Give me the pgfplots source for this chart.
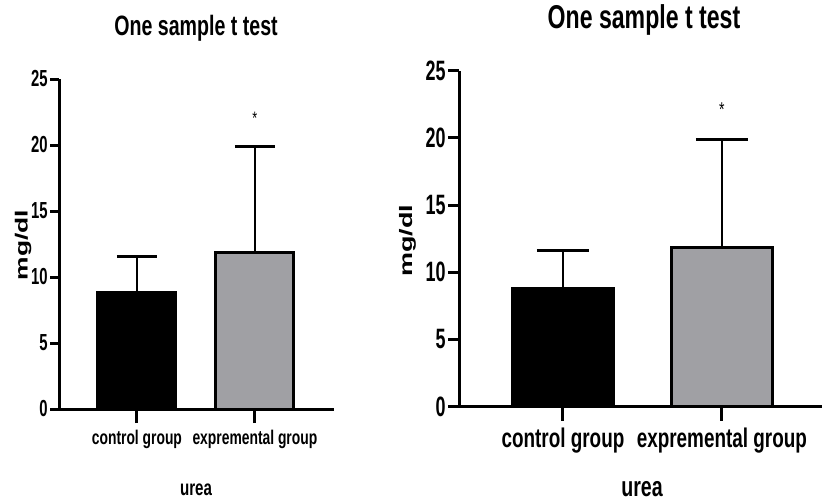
\documentclass[border=0pt]{standalone}
\usepackage{fontspec}
\setmainfont{Liberation Sans}[FakeStretch=0.7]
\newfontfamily\ylfont{Liberation Sans}[FakeStretch=1.5]
\newfontfamily\numfont{Liberation Sans}[FakeStretch=0.64]
\usepackage{pgfplots}
\pgfplotsset{compat=1.18}
\definecolor{barGray}{HTML}{A0A0A4}

\pgfplotsset{
  urea/.style={
    scale only axis,
    axis lines=left,
    axis line style={-, line width=1.5pt},
    ymin=0, ymax=25, ytick={0,5,...,25},
    xtick={0,1}, xticklabels={control group, expremental group},
    tick align=outside,
    tick style={line width=1.5pt, black},
    ybar, bar shift=0pt,
    /pgf/number format/assume math mode=true,
    clip=false,
  },
  errstyle/.style={
    error bars/.cd, y dir=plus, y explicit,
    error bar style={line width=0.75pt, black},
    error mark options={rotate=90, line width=1.5pt, mark size=#1, black}
  }
}

\begin{document}
\begin{tikzpicture}
\path[use as bounding box] (0,0) rectangle (411pt,-250.5pt);

% left panel
\begin{axis}[urea,
  at={(29.5pt,-204.5pt)}, anchor=south west,
  width=137.5pt, height=165pt,
  xmin=-0.66, xmax=1.67,
  major tick length=4.5pt,
  xtick style={/pgfplots/major tick length=7pt},
  yticklabel style={font=\numfont\bfseries\fontsize{11.6}{13}\selectfont, inner xsep=1pt},
  xticklabel style={font=\bfseries\fontsize{9.9}{12}\selectfont, yshift=-2.5pt},
  bar width=0.66,
]
\addplot[fill=black, draw=black, line width=1.5pt, errstyle=10pt]
  coordinates {(0,8.8) +- (0,2.75)};
\addplot[fill=barGray, draw=black, line width=1.5pt, errstyle=10pt]
  coordinates {(1,11.85) +- (0,8.05)};
\node[font=\fontsize{9}{10}\selectfont] at (axis cs:1,22.0) {*};
\end{axis}

% right panel
\begin{axis}[urea,
  at={(229.5pt,-203.35pt)}, anchor=south west,
  width=181.5pt, height=168pt,
  xmin=-0.654, xmax=1.63,
  major tick length=5.5pt,
  xtick style={/pgfplots/major tick length=7pt},
  yticklabel style={font=\numfont\bfseries\fontsize{14}{16}\selectfont, inner xsep=1pt},
  xticklabel style={font=\bfseries\fontsize{13.5}{15}\selectfont, yshift=-1.5pt},
  bar width=0.64,
]
\addplot[fill=black, draw=black, line width=1.5pt, errstyle=13pt]
  coordinates {(0,8.8) +- (0,2.8)};
\addplot[fill=barGray, draw=black, line width=1.5pt, errstyle=13pt]
  coordinates {(1,11.85) +- (0,8.05)};
\node[font=\fontsize{10}{11}\selectfont] at (axis cs:1,22.1) {*};
\end{axis}

% titles and axis labels
\node[font=\bfseries\fontsize{14}{16}\selectfont] at (98pt,-14.2pt) {One sample t test};
\node[font=\bfseries\fontsize{16.5}{19}\selectfont] at (322pt,-10.2pt) {One sample t test};
\node[rotate=90, font=\ylfont\bfseries\fontsize{8.8}{10}\selectfont] at (11.5pt,-122.5pt) {mg/dl};
\node[rotate=90, font=\ylfont\bfseries\fontsize{9}{10}\selectfont] at (204pt,-120.5pt) {mg/dl};
\node[font=\bfseries\fontsize{10.8}{12}\selectfont] at (98pt,-245pt) {urea};
\node[font=\bfseries\fontsize{14}{16}\selectfont] at (321pt,-244.5pt) {urea};
\end{tikzpicture}
\end{document}
